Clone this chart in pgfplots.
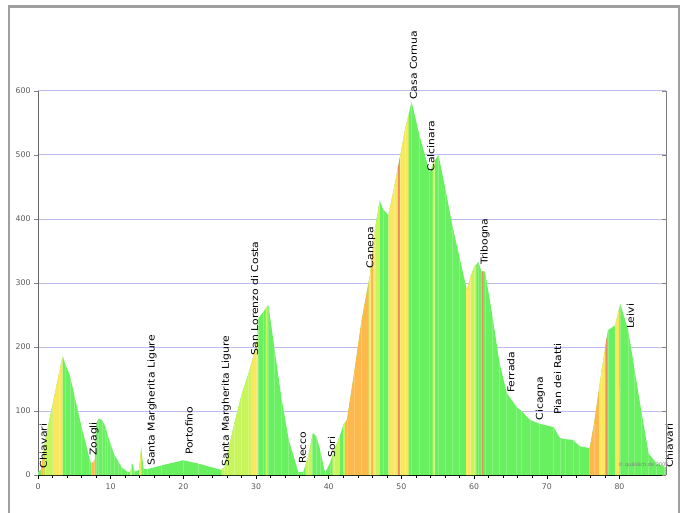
\documentclass[border=0pt]{standalone}
\usepackage{fontspec}
\usepackage{pgfplots}
\pgfplotsset{compat=1.18}
\usepackage{pgfplotstable}
\usepgfplotslibrary{fillbetween}
\newfontfamily\labfont[FakeStretch=1.15]{DejaVu Sans}
\newfontfamily\tickfam{DejaVu Sans}

\definecolor{cgreen}{RGB}{104,240,96}
\definecolor{cyg}{RGB}{200,245,92}
\definecolor{cyel}{RGB}{248,232,96}
\definecolor{corange}{RGB}{255,184,74}
\definecolor{cred}{RGB}{240,140,90}
\definecolor{cgrid}{RGB}{188,188,240}

% Profil Chiavari - Chiavari (km, m)
\pgfplotstableread{
km   h
0    5
0.4  8
0.7  30
1.0  55
2.0  110
3.0  165
3.4  186
3.7  175
4.4  155
5.0  125
6.0  75
7.0  30
7.3  18
7.8  22
8.0  80
8.3  88
8.8  86
9.3  75
9.6  62
10   48
10.5 32
11   22
11.5 12
12.3 5
12.7 5
12.9 18
13.1 15
13.3 5
13.9 8
14.2 44
14.5 10
15.0 9
17   15
20   23
22   18
25.2 8
25.7 13
26   30
27   80
28   125
29   160
30   200
30.3 245
31   255
31.7 266
32.5 200
33.5 120
34.5 55
35.8 5
36.5 5
37.2 30
37.8 66
38.3 60
38.8 40
39.5 3
40.2 20
40.8 40
41.5 60
42   78
42.5 86
43.5 160
44.5 240
45.7 315
46.3 380
47.0 429
47.5 415
48.2 406
49   450
49.8 497
50.5 540
51.4 583
52.5 530
53.9 472
54.5 490
55.1 500
56   450
57   390
58   340
59   289
59.5 310
60.0 325
60.6 333
61.0 318
61.5 318
62.5 250
63.5 175
64.5 128
65.8 107
66.5 100
67.7 86
69   80
70.9 75
71.8 58
72.5 56
73.6 55
74.5 45
75.9 42
76.5 80
77.5 160
78.4 226
79.4 234
80.1 268
81.2 226
82   170
83   100
84   34
85.1 18
86.2 13
86.4 12
}\profile

\newcommand{\seg}[3]{\addplot[fill=#1, draw=none] fill between[of=prof and base, soft clip={domain=#2:#3}];}

\begin{document}
\begin{tikzpicture}
\begin{axis}[
    at={(38pt,37pt)}, anchor=south west,
    scale only axis, width=628pt, height=384pt,
    xmin=0, xmax=86.4, ymin=0, ymax=600,
    clip=false,
    axis lines*=left,
    x axis line style={black, line width=1.2pt},
    y axis line style={gray!80!black, line width=0.6pt},
    xtick={0,10,...,80}, minor x tick num=4,
    ytick={0,100,...,600},
    tick align=outside,
    major tick length=4pt, minor tick length=3pt,
    x tick style={black, line width=0.6pt},
    y tick style={gray, line width=0.6pt},
    ymajorgrids,
    major grid style={cgrid, line width=1pt},
    /pgf/number format/assume math mode=true,
    tick label style={font=\tickfam\fontsize{7.8}{9}\selectfont, text=black!65},
    xticklabel style={yshift=-1pt},
]
\addplot[name path=prof, draw=none] table[x=km, y=h] {\profile};
\addplot[name path=base, draw=none] coordinates {(0,0) (86.4,0)};
\addplot[fill=cgreen, draw=none] fill between[of=prof and base];
% Steigungsabschnitte
\seg{corange}{0.4}{0.9}
\seg{cyg}{0.9}{2.0}
\seg{cyel}{2.0}{3.4}
\seg{corange}{7.3}{7.9}
\seg{cyg}{12.7}{12.9}
\seg{cyel}{13.9}{14.2}
\seg{cyg}{25.3}{29.3}
\seg{cyel}{29.3}{30.3}
\seg{cyg}{31.3}{31.6}
\seg{cyg}{36.8}{37.7}
\seg{cyg}{40.5}{41.5}
\seg{cyg}{42.0}{42.3}
\seg{corange}{42.3}{45.5}
\seg{cyel}{45.5}{45.8}
\seg{corange}{45.8}{46.1}
\seg{cyel}{46.1}{46.5}
\seg{cyg}{46.5}{47.0}
\seg{cyel}{48.2}{49.5}
\seg{cred}{49.5}{49.8}
\seg{cyel}{49.8}{51.0}
\seg{cyg}{54.3}{54.6}
\seg{cyel}{58.9}{59.6}
\seg{cyg}{59.6}{60.3}
\seg{cred}{61.1}{61.25}
\seg{corange}{75.9}{77.2}
\seg{cyel}{77.2}{78.1}
\seg{cred}{78.1}{78.25}
\seg{cyel}{79.4}{80.0}
% feine Streifen
\addplot[ycomb, draw=white, opacity=0.22, line width=0.7pt, mark=none] table[x=km, y=h] {\profile};

% Ortsnamen
\begin{scope}[every node/.style={rotate=90, anchor=west, inner sep=0pt, font=\labfont\fontsize{9.4}{10}\selectfont}]
\node at (0.75,10) {Chiavari};
\node at (7.7,30) {Zoagli};
\node at (15.7,14) {Santa Margherita Ligure};
\node at (20.8,31) {Portofino};
\node at (25.9,13) {Santa Margherita Ligure};
\node at (29.8,187) {San Lorenzo di Costa};
\node at (36.4,17) {Recco};
\node at (40.4,27) {Sori};
\node at (45.8,323) {Canepa};
\node at (51.65,586) {Casa Cornua};
\node at (54.05,474) {Calcinara};
\node at (61.5,328) {Tribogna};
\node at (65.05,128) {Ferrada};
\node at (69.1,85) {Cicagna};
\node at (71.5,94) {Pian dei Ratti};
\node at (81.5,228) {Leivi};
\node at (86.85,11) {Chiavari};
\end{scope}
\node[font=\tickfam\fontsize{5}{6}\selectfont, text=gray] at (83.3,16) {© quäldich.de 2006};
\end{axis}

\begin{axis}[
    at={(38pt,37pt)}, anchor=south west,
    scale only axis, width=628pt, height=384pt,
    xmin=0, xmax=86.4, ymin=0, ymax=600,
    axis x line=none, axis y line*=right,
    y axis line style={gray, line width=0.6pt},
    ytick={0,100,...,600}, yticklabels={},
    tick align=inside, major tick length=4pt,
    y tick style={gray, line width=0.6pt},
]
\addplot[draw=none] coordinates {(0,0) (1,1)};
\end{axis}

\draw[gray!75, line width=2.5pt] (9pt,-10pt) -- (9pt,505.5pt) -- (679pt,505.5pt) -- (679pt,-10pt);
\pgfresetboundingbox
\useasboundingbox (0pt,0pt) rectangle (687pt,512pt);
\end{tikzpicture}
\end{document}
